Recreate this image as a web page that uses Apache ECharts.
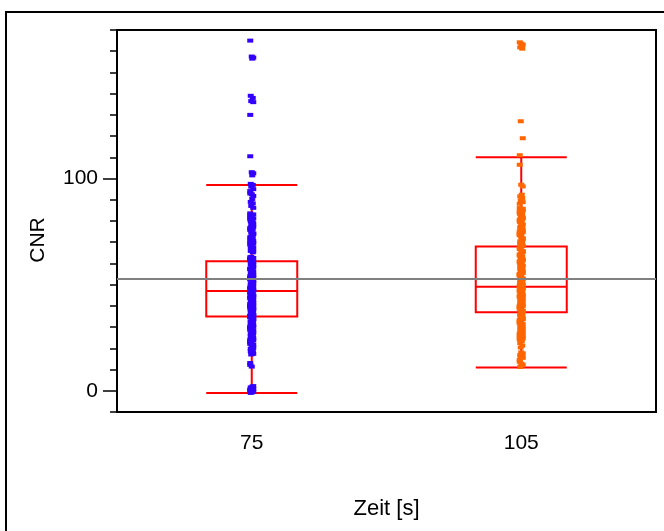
<!DOCTYPE html>
<html>
<head>
<meta charset="utf-8">
<script src="https://cdn.jsdelivr.net/npm/echarts@6/dist/echarts.min.js"></script>
<style>
html,body{margin:0;padding:0;background:#fff;}
#chart{width:664px;height:531px;}
</style>
</head>
<body>
<div id="chart"></div>
<script>
// ---- data ----
var categories = ['75', '105'];
var yTickLabels = [0, 100];
// box statistics: [min whisker, Q1, median, Q3, max whisker]
var box75 = [-1, 35, 47, 61, 97];
var box105 = [11, 37, 49, 68, 110];
var grandMean = 53;

var points75 = [
  165, 157.5, 157, 156.5, 139, 138, 136.5, 136, 130, 110.5, 103, 102.5, 101.5,
  97.5, 97, 96.2, 95, 94.1, 93, 92.6, 91.8, 90.4, 89, 88.3, 87.1, 86.2,
  83.6, 82.7, 82.1, 81.2, 80.4, 79.9, 79.1, 78.2, 77.3, 76.6, 75.8, 75.1, 74.2, 73.4,
  72.6, 71.9, 71.2, 70.5, 69.8, 68.9, 68.1, 67.4, 66.6, 65.9, 65.2,
  63.1, 62.6, 62.2, 61.7, 61.3, 60.8, 60.2, 59.7, 59.1, 58.8, 58.2, 57.6, 57.3, 56.7,
  56.1, 55.8, 55.2, 54.7, 54.3, 53.6, 53.1, 52.8, 52.2, 51.7, 51.3, 50.6, 50.2, 49.7,
  49.3, 48.6, 48.1, 47.8, 47.2, 46.9, 46.3, 45.8, 45.2, 44.9, 44.3, 43.7, 43.2, 42.8,
  42.1, 41.7, 41.2, 40.6, 40.3, 39.8, 39.1, 38.7, 38.2, 37.6, 37.3, 36.8, 36.1, 35.7,
  35.2, 34.6, 34.1, 33.8, 33.2, 32.6, 32.1, 31.7, 31.1, 30.4, 29.8, 29.1, 28.3, 27.6,
  26.9, 26.2, 25.4, 24.8, 24.1, 23.3, 22.4, 21.6, 20.7, 19.8, 19.1, 18.2, 17.4,
  62.9, 61.5, 60.5, 59.4, 58.5, 57.1, 56.4, 55.5, 54.5, 53.9, 52.5, 51.9, 50.9, 50.4,
  49.5, 48.9, 48.4, 47.5, 46.6, 46.1, 45.5, 44.6, 44.1, 43.4, 42.5, 41.9, 41.4, 40.9,
  40.1, 39.5, 38.9, 38.4, 37.9, 37.1, 36.5, 35.9, 35.4, 34.9, 34.3, 33.5, 32.9, 32.4,
  31.4, 30.8, 30.1, 29.5, 28.7, 27.9, 27.2, 26.5, 25.8, 25.1, 24.4, 23.7, 22.9, 22.1,
  21.2, 20.3, 19.5, 18.7, 17.8, 17.1,
  83.1, 81.7, 80.8, 79.5, 78.7, 77.8, 76.9, 76.3, 74.6, 73.8, 72.2, 70.9, 70.1, 69.4,
  68.5, 67.7, 66.9, 66.3, 65.6,
  13.1, 12.2, 11.4,
  2.2, 1.9, 1.6, 1.3, 1.1, 0.8, 0.6, 0.2, -0.1, -0.4, -0.7, -1
];

var points105 = [
  164.2, 163.6, 163.1, 162.5, 161.8, 161.2, 127, 119, 111, 106.5,
  97.1, 96.3, 92.4, 91.6, 90.8, 89.7, 88.9, 88.1,
  86.1, 85.4, 84.8, 84.1, 83.3, 82.7, 81.9, 81.2, 80.6, 79.8, 79.1, 78.4, 77.6, 76.9,
  76.2, 75.5, 74.7, 74.1, 73.3, 72.6, 71.8, 71.2, 70.4, 69.7, 68.9, 68.2, 67.6, 66.8,
  66.1, 65.4, 64.7, 63.9, 63.2, 62.6, 61.8, 61.1, 60.4, 59.6, 58.9, 58.3, 57.6, 56.8,
  56.2, 55.5, 54.8, 54.2, 53.6, 52.9, 52.3, 51.7, 51.1, 50.6, 50.1, 49.6, 49.1, 48.6,
  48.1, 47.6, 47.1, 46.5, 45.9, 45.3, 44.8, 44.2, 43.6, 42.9, 42.3, 41.7, 41.1, 40.4,
  39.8, 39.2, 38.6, 37.9, 37.3, 36.7, 36.1, 35.4, 34.8, 34.1, 33.4, 32.8, 32.1, 31.4,
  30.7, 29.9, 29.2, 28.4, 27.7, 26.9, 26.2, 25.4, 24.6, 23.4, 22.5, 21.3, 20.4,
  85.8, 84.5, 83.7, 82.3, 81.5, 80.2, 79.4, 78.1, 77.2, 75.9, 75.1, 73.8, 72.9, 71.5,
  70.8, 69.3, 68.5, 67.2, 65.8, 64.3, 63.6, 62.1, 61.4, 60.1, 59.2, 58.6, 57.2, 56.5,
  55.1, 54.5, 53.3, 52.6, 51.4, 50.9, 49.9, 49.3, 48.4, 47.4, 46.8, 45.6, 44.5, 43.9,
  43.1, 42.6, 41.4, 40.8, 40.1, 39.5, 38.3, 37.6, 36.4, 35.8, 35.1, 34.4, 33.7, 32.4,
  31.7, 30.4, 29.6, 28.8, 28.1, 27.3, 26.5, 25.8, 24.9, 24.2,
  18.1, 17.6, 17.2, 16.8, 16.4, 15.9, 15.5, 14.6, 13.7, 12.8, 12.3, 11.9, 11.2
];

// ---- chart ----
var jitter = [-1.5, 0, 1.5, 0.5, -1, 1, -0.5, 1.5, -1.5];
function toItems(vals, catIdx) {
  return vals.map(function (v, i) {
    return { value: [catIdx, v], symbolOffset: [jitter[i % jitter.length], 0] };
  });
}

var font = 'Liberation Sans, Arial, sans-serif';
var chart = echarts.init(document.getElementById('chart'), null, { renderer: 'canvas' });

var option = {
  backgroundColor: '#fff',
  animation: false,
  graphic: [{
    type: 'rect',
    shape: { x: 6, y: 12, width: 700, height: 560 },
    style: { fill: 'none', stroke: '#000', lineWidth: 2 },
    z: 100
  }],
  grid: {
    left: 117, top: 30, right: 8, bottom: 119,
    show: true, borderColor: '#000', borderWidth: 2, backgroundColor: 'transparent'
  },
  xAxis: {
    type: 'category',
    data: categories,
    boundaryGap: true,
    axisLine: { onZero: false, lineStyle: { color: '#000', width: 2 } },
    axisTick: { length: 12, lineStyle: { color: '#000', width: 2 } },
    axisLabel: { color: '#000', fontSize: 21, fontFamily: font, margin: 21 },
    name: 'Zeit [s]',
    nameLocation: 'middle',
    nameGap: 86,
    nameTextStyle: { color: '#000', fontSize: 22, fontFamily: font },
    splitLine: { show: false }
  },
  yAxis: [{
    type: 'value',
    min: -10, max: 170, interval: 10,
    axisLine: { show: true, onZero: false, lineStyle: { color: '#000', width: 2 } },
    axisTick: { show: true, length: 7, lineStyle: { color: '#000', width: 1.5 } },
    axisLabel: { show: false },
    splitLine: { show: false },
    name: 'CNR',
    nameLocation: 'middle',
    nameGap: 68,
    nameTextStyle: { color: '#000', fontSize: 21, fontFamily: font, padding: [0, 38, 0, 0] }
  }, {
    type: 'value',
    position: 'left',
    min: -10, max: 170,
    axisLine: { show: false, onZero: false },
    axisTick: { show: true, length: 14, customValues: yTickLabels, lineStyle: { color: '#000', width: 1.5 } },
    axisLabel: { show: true, customValues: yTickLabels, color: '#000', fontSize: 21, fontFamily: font, margin: 19 },
    splitLine: { show: false }
  }],
  series: [{
    type: 'boxplot',
    data: [box75, box105],
    boxWidth: [91, 91],
    itemStyle: { color: 'transparent', borderColor: '#ff0000', borderWidth: 2 },
    silent: true,
    z: 2,
    markLine: {
      silent: true,
      symbol: ['none', 'none'],
      label: { show: false },
      lineStyle: { color: '#808080', width: 2, type: 'solid' },
      data: [{ yAxis: grandMean }]
    }
  }, {
    type: 'scatter',
    data: toItems(points75, 0),
    symbol: 'rect',
    symbolSize: [6, 4],
    itemStyle: { color: '#3300ff', opacity: 1 },
    z: 3
  }, {
    type: 'scatter',
    data: toItems(points105, 1),
    symbol: 'rect',
    symbolSize: [6, 4],
    itemStyle: { color: '#ff6600', opacity: 1 },
    z: 3
  }]
};
chart.setOption(option);
</script>
</body>
</html>
